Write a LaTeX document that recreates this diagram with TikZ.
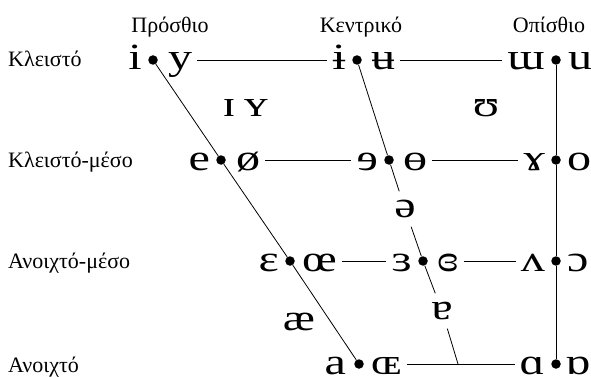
\documentclass[tikz,border=0pt]{standalone}
\usepackage{fontspec}
\setmainfont{Liberation Serif}
\newfontfamily\ipafont[FakeStretch=1.3]{Liberation Serif}
\usetikzlibrary{positioning,calc}
\tikzset{
dot/.style={
circle,
fill=black,
inner sep=0pt,
minimum size=9.5pt
},
vowel/.style={
inner sep=0pt,
text height=24pt,
text depth=4pt,
font=\ipafont\fontsize{37}{40}\selectfont
},
lone/.style={
inner sep=0pt,
anchor=base,
font=\ipafont\fontsize{37}{40}\selectfont
},
gapvowel/.style={
inner xsep=2pt,
inner ysep=9pt,
text height=17pt,
text depth=0pt,
font=\ipafont\fontsize{37}{40}\selectfont
},
rowlabel/.style={
anchor=base west,
inner sep=0pt,
font=\fontsize{22}{26}\selectfont
},
collabel/.style={
anchor=base,
inner sep=0pt,
font=\fontsize{22}{26}\selectfont
},
link/.style={
line width=0.8pt
}
}
\begin{document}
\begin{tikzpicture}[x=1pt,y=-1pt,node distance=6pt]
\useasboundingbox (0,0) rectangle (591,377);
% column and row labels
\node[collabel] (front) at (170,33) {Πρόσθιο};
\node[collabel] (central) at (361,33) {Κεντρικό};
\node[collabel] (back) at (549,33) {Οπίσθιο};
\node[rowlabel] (close) at (8,67) {Κλειστό};
\node[rowlabel] (closemid) at (8,167) {Κλειστό-μέσο};
\node[rowlabel] (openmid) at (8,268) {Ανοιχτό-μέσο};
\node[rowlabel] (open) at (8,372) {Ανοιχτό};

% dots
\node[dot] (fc) at (153,60) {};
\node[dot] (cc) at (357,60) {};
\node[dot] (bc) at (556,60) {};
\node[dot] (fcm) at (221,160) {};
\node[dot] (ccm) at (389,160) {};
\node[dot] (bcm) at (556,160) {};
\node[dot] (fom) at (290,261) {};
\node[dot] (com) at (423,261) {};
\node[dot] (bom) at (556,261) {};
\node[dot] (fo) at (359,364) {};
\node[dot] (bo) at (556,364) {};
\coordinate (co) at (458,364);

% vowel pairs
\node[vowel,left=of fc] (i) {i};
\node[vowel,right=10pt of fc] (y) {y};
\node[vowel,left=of cc] (ibar) {ɨ};
\node[vowel,right=9pt of cc] (ubar) {ʉ};
\node[vowel,left=of bc] (turnm) {ɯ};
\node[vowel,right=7pt of bc] (u) {u};
\node[vowel,left=of fcm] (e) {e};
\node[vowel,right=10pt of fcm] (oslash) {ø};
\node[vowel,left=of ccm] (reve) {ɘ};
\node[vowel,right=9pt of ccm] (obar) {ɵ};
\node[vowel,left=of bcm] (ramshorn) {ɤ};
\node[vowel,right=6pt of bcm] (o) {o};
\node[vowel,left=of fom] (eps) {ɛ};
\node[vowel,right=7pt of fom] (oe) {œ};
\node[vowel,left=of com] (reveps) {ɜ};
\node[vowel,right=9pt of com] (clreveps) {ɞ};
\node[vowel,left=of bom] (wedge) {ʌ};
\node[vowel,right=6pt of bom] (openo) {ɔ};
\node[vowel,left=8pt of fo] (a) {a};
\node[vowel,right=7pt of fo] (smalloe) {ɶ};
\node[vowel,left=of bo] (alpha) {ɑ};
\node[vowel,right=4pt of bo] (turnalpha) {ɒ};

% vowels off the dots
\node[lone] (smalli) at (229,117) {ɪ};
\node[lone] (smally) at (256,117) {ʏ};
\node[lone] (upsilon) at (486,117) {ʊ};
\node[lone] (ash) at (299,330) {æ};
\node[gapvowel] (schwa) at (405,209) {ə};
\node[gapvowel] (turna) at (442,311) {ɐ};

% lines
\foreach \x/\y in {y/ibar,ubar/turnm,oslash/reve,obar/ramshorn,oe/reveps,clreveps/wedge,smalloe/alpha}
\draw[link,shorten <=5pt,shorten >=5pt](\x)--(\y);
\draw[link](fc)--(fcm)--(fom)--(fo);
\draw[link](cc)--(ccm)--(schwa)--(com)--(turna)--(co);
\draw[link](bc)--(bcm)--(bom)--(bo);
\end{tikzpicture}
\end{document}
